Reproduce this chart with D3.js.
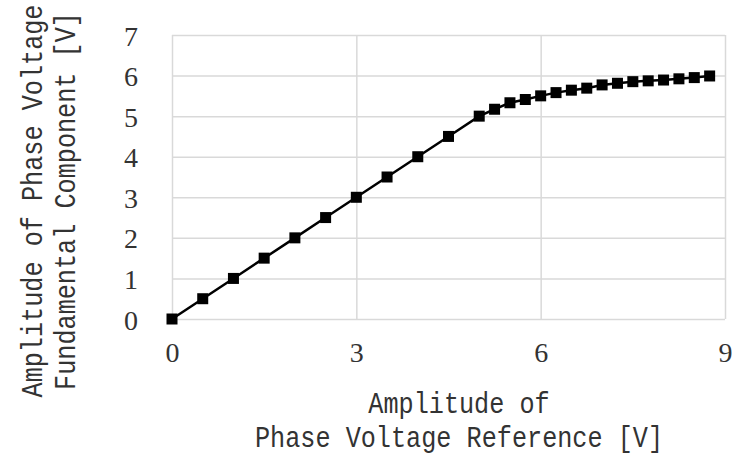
<!DOCTYPE html>
<html>
<head>
<meta charset="utf-8">
<script src="https://cdn.jsdelivr.net/npm/d3@7"></script>
<style>
  html, body { margin: 0; padding: 0; background: #fff; }
  svg { display: block; }
</style>
</head>
<body>
<svg id="chart" width="732" height="455"></svg>
<script>
// ---- data ----
const refAmplitude = [0, 0.5, 1, 1.5, 2, 2.5, 3, 3.5, 4, 4.5, 5,
  5.25, 5.5, 5.75, 6, 6.25, 6.5, 6.75, 7, 7.25, 7.5, 7.75, 8, 8.25, 8.5, 8.75];
const fundamentalAmplitude = [0, 0.5, 1, 1.5, 2, 2.5, 3, 3.5, 4, 4.5, 5,
  5.17, 5.33, 5.41, 5.5, 5.58, 5.64, 5.69, 5.77, 5.81, 5.85, 5.87, 5.89, 5.92, 5.95, 5.99];
const xTicks = [0, 3, 6, 9];
const yTicks = [0, 1, 2, 3, 4, 5, 6, 7];
const xTitle = ["Amplitude of", "Phase Voltage Reference [V]"];
const yTitle = ["Amplitude of Phase Voltage", "Fundamental Component [V]"];

// ---- layout ----
const plotL = 172, plotR = 725, plotT = 35, plotB = 319;
const svg = d3.select("#chart");
const x = d3.scaleLinear().domain([0, 9]).range([plotL, plotR]);
const y = d3.scaleLinear().domain([0, 7]).range([plotB, plotT]);

const gridColor = "#d9d9d9";
const textColor = "#333";
const monoFont = "'Liberation Mono', 'DejaVu Sans Mono', monospace";
const serifFont = "'Liberation Serif', 'DejaVu Serif', serif";

// gridlines
const gx = svg.append("g").attr("transform", `translate(0,${plotB})`)
  .call(d3.axisBottom(x).tickValues(xTicks).tickSize(-(plotB - plotT)).tickFormat(""));
const gy = svg.append("g").attr("transform", `translate(${plotL},0)`)
  .call(d3.axisLeft(y).tickValues(yTicks).tickSize(-(plotR - plotL)).tickFormat(""));
[gx, gy].forEach(g => {
  g.select(".domain").remove();
  g.selectAll(".tick line").attr("stroke", gridColor).attr("stroke-width", 1.5);
});

// tick labels
const lx = svg.append("g").attr("transform", `translate(0,${plotB})`)
  .call(d3.axisBottom(x).tickValues(xTicks).tickSize(0).tickFormat(d3.format("d")));
lx.select(".domain").remove();
lx.selectAll("text").attr("y", 43).attr("dy", 0)
  .attr("font-family", serifFont).attr("font-size", 28).attr("fill", textColor);

const ly = svg.append("g").attr("transform", `translate(${plotL},0)`)
  .call(d3.axisLeft(y).tickValues(yTicks).tickSize(0).tickFormat(d3.format("d")));
ly.select(".domain").remove();
ly.selectAll("text").attr("x", -34).attr("dy", 10)
  .attr("text-anchor", "end")
  .attr("font-family", serifFont).attr("font-size", 28).attr("fill", textColor);

// series line + markers
const pts = refAmplitude.map((v, i) => [v, fundamentalAmplitude[i]]);
svg.append("path").datum(pts)
  .attr("fill", "none").attr("stroke", "#000").attr("stroke-width", 2.5)
  .attr("d", d3.line().x(d => x(d[0])).y(d => y(d[1])));
const ms = 11;
svg.append("g").selectAll("rect").data(pts).join("rect")
  .attr("x", d => x(d[0]) - ms / 2).attr("y", d => y(d[1]) - ms / 2)
  .attr("width", ms).attr("height", ms).attr("fill", "#000");

// axis titles (monospace, advance ~15.15px per char, slightly stretched vertically)
const titleSize = 25.2;
const vStretch = 1.15;
const xt = svg.append("g").attr("font-family", monoFont).attr("font-size", titleSize).attr("fill", textColor);
[[413, xTitle[0]], [447, xTitle[1]]].forEach(([by, t]) => {
  xt.append("text").attr("transform", `translate(459,${by}) scale(1,${vStretch})`)
    .attr("text-anchor", "middle").text(t);
});
const yt = svg.append("g").attr("font-family", monoFont).attr("font-size", titleSize).attr("fill", textColor);
[[42, yTitle[0]], [75, yTitle[1]]].forEach(([bx, t]) => {
  yt.append("text").attr("transform", `translate(${bx},201) rotate(-90) scale(1,${vStretch})`)
    .attr("text-anchor", "middle").text(t);
});
</script>
</body>
</html>
